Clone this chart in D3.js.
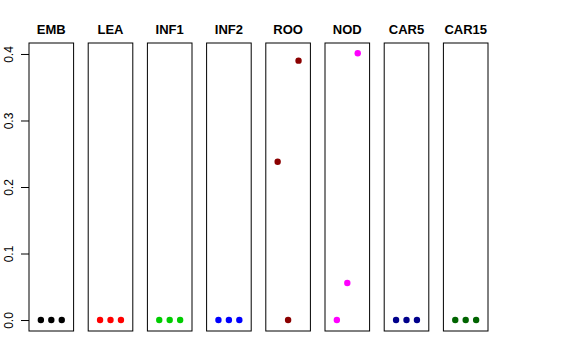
<!DOCTYPE html>
<html>
<head>
<meta charset="utf-8">
<script src="https://cdn.jsdelivr.net/npm/d3@7"></script>
<style>
  body { margin: 0; background: #fff; }
  text { font-family: "Liberation Sans", Arial, sans-serif; }
</style>
</head>
<body>
<svg id="chart" width="576" height="360"></svg>
<script>
// tissues, one panel each
var tissues = ['EMB', 'LEA', 'INF1', 'INF2', 'ROO', 'NOD', 'CAR5', 'CAR15'];
var colors = ['#000000', '#ff0000', '#00cd00', '#0000ff', '#8b0000', '#ff00ff', '#00008b', '#006400'];
// three replicate values per tissue
var values = [
  [0, 0, 0],
  [0, 0, 0],
  [0, 0, 0],
  [0, 0, 0],
  [0.238, 0, 0.39],
  [0, 0.0556, 0.401],
  [0, 0, 0],
  [0, 0, 0]
];
var yTicks = [0, 0.1, 0.2, 0.3, 0.4];

var svg = d3.select('#chart');
var plotTop = 43, plotBottom = 331, panelW = 44.6, step = 59.2, left0 = 29;

var y = d3.scaleLinear().domain([-0.0165, 0.4165]).range([plotBottom, plotTop]);
var xPanel = function (i) { return left0 + i * step; };

// y axis on first panel
var yAxis = d3.axisLeft(y).tickValues(yTicks).tickSize(8).tickSizeOuter(0)
  .tickFormat(d3.format('.1f'));
var ax = svg.append('g').attr('transform', 'translate(' + left0 + ',0)').call(yAxis);
ax.select('.domain').remove();
ax.selectAll('.tick line').attr('stroke', '#000');
ax.selectAll('.tick text')
  .attr('font-size', 12)
  .attr('fill', '#000')
  .attr('transform', 'translate(-20,0) rotate(-90)')
  .attr('x', 0).attr('y', 0).attr('dy', '0.35em').attr('text-anchor', 'middle');

tissues.forEach(function (t, i) {
  var g = svg.append('g').attr('transform', 'translate(' + xPanel(i) + ',0)');
  var x = d3.scaleLinear().domain([-1.135, 3.135]).range([0, panelW]);

  g.append('rect')
    .attr('x', 0).attr('y', plotTop)
    .attr('width', panelW).attr('height', plotBottom - plotTop)
    .attr('fill', 'none').attr('stroke', '#000').attr('stroke-width', 1);

  g.append('text')
    .attr('x', panelW / 2).attr('y', 34)
    .attr('text-anchor', 'middle')
    .attr('font-size', 13).attr('font-weight', 'bold')
    .text(t);

  g.selectAll('circle')
    .data(values[i])
    .enter().append('circle')
    .attr('cx', function (d, j) { return x(j); })
    .attr('cy', function (d) { return y(d); })
    .attr('r', 3.2)
    .attr('fill', colors[i]);
});
</script>
</body>
</html>
